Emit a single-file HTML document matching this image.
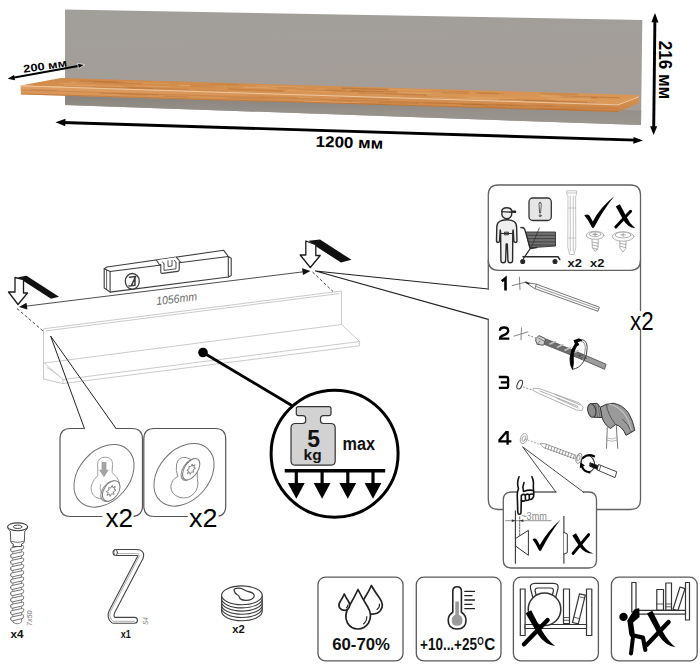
<!DOCTYPE html>
<html><head><meta charset="utf-8">
<style>
html,body{margin:0;padding:0;background:#fff;}
svg{display:block;}
text{font-family:"Liberation Sans",sans-serif;}
</style></head><body>
<svg width="700" height="666" viewBox="0 0 700 666">
<defs>
<linearGradient id="pg" x1="0" y1="0" x2="0.15" y2="1">
<stop offset="0" stop-color="#a19f9a"/><stop offset="1" stop-color="#a59c97"/>
</linearGradient>
<linearGradient id="sh" x1="0" y1="0" x2="0" y2="1">
<stop offset="0" stop-color="#86807b"/><stop offset="0.6" stop-color="#97918c"/><stop offset="1" stop-color="#9c9691"/>
</linearGradient>
<linearGradient id="wt" x1="0" y1="0" x2="0" y2="1">
<stop offset="0" stop-color="#cf8948"/><stop offset="1" stop-color="#dd9c5c"/>
</linearGradient>
<linearGradient id="wf" x1="0" y1="0" x2="0" y2="1">
<stop offset="0" stop-color="#e0a064"/><stop offset="1" stop-color="#c98243"/>
</linearGradient>
</defs>
<rect width="700" height="666" fill="#fff"/>
<!-- ===== TOP: shelf photo ===== -->
<g id="top">
<polygon points="65,9.500 642.300,20 641,125 65,105" fill="url(#pg)"/>
<polygon points="65,93 641.200,110.500 641,125 65,105" fill="url(#sh)"/>
<polygon points="61,78 639,95 639,97 618,104.500 20.500,85.500" fill="url(#wt)"/>
<polygon points="20.500,85.500 618,104.500 639,96.500 639,103 618,112 21,94.500" fill="url(#wf)"/>
<g><line x1="178.9" y1="85.2" x2="225.2" y2="86.6" stroke="#f0c08a" stroke-width="1.1" opacity="0.39"/>
<line x1="366.1" y1="91.6" x2="431.8" y2="93.6" stroke="#f0c08a" stroke-width="1.4" opacity="0.32"/>
<line x1="296.0" y1="89.5" x2="357.9" y2="91.4" stroke="#a8622a" stroke-width="0.7" opacity="0.32"/>
<line x1="540.3" y1="93.4" x2="578.1" y2="94.5" stroke="#b06a2e" stroke-width="1.4" opacity="0.30"/>
<line x1="64.3" y1="84.8" x2="123.7" y2="86.6" stroke="#e9b47c" stroke-width="1.2" opacity="0.39"/>
<line x1="498.6" y1="99.1" x2="554.6" y2="100.9" stroke="#bb7436" stroke-width="1.1" opacity="0.47"/>
<line x1="553.4" y1="96.5" x2="578.0" y2="97.3" stroke="#b06a2e" stroke-width="0.8" opacity="0.29"/>
<line x1="549.3" y1="98.4" x2="590.2" y2="99.7" stroke="#e9b47c" stroke-width="1.3" opacity="0.38"/>
<line x1="351.3" y1="90.7" x2="397.1" y2="92.1" stroke="#a8622a" stroke-width="1.1" opacity="0.52"/>
<line x1="523.5" y1="100.4" x2="587.2" y2="102.4" stroke="#a8622a" stroke-width="0.9" opacity="0.46"/>
<line x1="341.9" y1="88.2" x2="389.3" y2="89.6" stroke="#a8622a" stroke-width="1.4" opacity="0.44"/>
<line x1="190.8" y1="86.3" x2="215.0" y2="87.0" stroke="#bb7436" stroke-width="1.2" opacity="0.28"/>
<line x1="269.8" y1="87.4" x2="295.3" y2="88.1" stroke="#bb7436" stroke-width="0.6" opacity="0.51"/>
<line x1="365.0" y1="93.4" x2="385.2" y2="94.0" stroke="#e9b47c" stroke-width="1.3" opacity="0.42"/>
<line x1="209.3" y1="83.7" x2="239.0" y2="84.6" stroke="#b06a2e" stroke-width="1.1" opacity="0.27"/>
<line x1="71.2" y1="82.1" x2="99.2" y2="83.0" stroke="#f0c08a" stroke-width="1.2" opacity="0.33"/>
<line x1="561.6" y1="96.7" x2="597.1" y2="97.8" stroke="#a8622a" stroke-width="0.9" opacity="0.52"/>
<line x1="286.7" y1="90.4" x2="332.0" y2="91.8" stroke="#f0c08a" stroke-width="0.7" opacity="0.45"/>
<line x1="559.6" y1="96.0" x2="619.9" y2="97.8" stroke="#a8622a" stroke-width="0.9" opacity="0.53"/>
<line x1="190.2" y1="85.3" x2="223.7" y2="86.3" stroke="#bb7436" stroke-width="0.9" opacity="0.55"/>
<line x1="256.5" y1="85.8" x2="304.9" y2="87.3" stroke="#e9b47c" stroke-width="1.1" opacity="0.39"/>
<line x1="228.2" y1="89.3" x2="283.6" y2="91.0" stroke="#b06a2e" stroke-width="1.4" opacity="0.43"/>
<line x1="59.1" y1="83.3" x2="96.4" y2="84.4" stroke="#e9b47c" stroke-width="0.9" opacity="0.43"/>
<line x1="243.9" y1="87.1" x2="277.9" y2="88.2" stroke="#f0c08a" stroke-width="1.2" opacity="0.33"/>
<line x1="92.3" y1="86.7" x2="153.7" y2="88.6" stroke="#a8622a" stroke-width="0.8" opacity="0.34"/>
<line x1="474.4" y1="92.7" x2="504.4" y2="93.7" stroke="#bb7436" stroke-width="0.7" opacity="0.44"/>
<line x1="358.8" y1="92.9" x2="427.0" y2="95.0" stroke="#a8622a" stroke-width="1.3" opacity="0.38"/>
<line x1="135.3" y1="85.8" x2="170.9" y2="86.9" stroke="#f0c08a" stroke-width="0.8" opacity="0.39"/>
<line x1="123.8" y1="82.2" x2="169.1" y2="83.6" stroke="#f0c08a" stroke-width="0.8" opacity="0.31"/>
<line x1="463.5" y1="97.1" x2="515.5" y2="98.8" stroke="#e9b47c" stroke-width="0.9" opacity="0.43"/>
<line x1="321.2" y1="90.2" x2="383.7" y2="92.1" stroke="#bb7436" stroke-width="1.1" opacity="0.34"/>
<line x1="79.8" y1="81.0" x2="118.9" y2="82.1" stroke="#bb7436" stroke-width="1.3" opacity="0.53"/>
<line x1="554.6" y1="101.1" x2="595.7" y2="102.4" stroke="#a8622a" stroke-width="1.0" opacity="0.26"/>
<line x1="432.1" y1="97.3" x2="490.0" y2="99.2" stroke="#f0c08a" stroke-width="0.8" opacity="0.35"/>
<line x1="93.8" y1="82.0" x2="142.3" y2="83.5" stroke="#a8622a" stroke-width="1.3" opacity="0.26"/>
<line x1="402.3" y1="95.9" x2="469.5" y2="98.0" stroke="#bb7436" stroke-width="0.6" opacity="0.42"/>
<line x1="442.0" y1="92.6" x2="468.6" y2="93.4" stroke="#b06a2e" stroke-width="0.9" opacity="0.41"/>
<line x1="540.9" y1="95.9" x2="590.8" y2="97.5" stroke="#e9b47c" stroke-width="1.0" opacity="0.54"/>
<line x1="477.7" y1="93.1" x2="498.4" y2="93.7" stroke="#b06a2e" stroke-width="1.3" opacity="0.41"/>
<line x1="128.5" y1="87.5" x2="188.7" y2="89.4" stroke="#a8622a" stroke-width="0.6" opacity="0.50"/>
<line x1="387.6" y1="89.1" x2="450.2" y2="91.0" stroke="#e9b47c" stroke-width="1.1" opacity="0.32"/>
<line x1="325.3" y1="89.3" x2="345.5" y2="89.9" stroke="#b06a2e" stroke-width="1.2" opacity="0.51"/>
<line x1="76.5" y1="82.8" x2="96.8" y2="83.4" stroke="#b06a2e" stroke-width="0.7" opacity="0.51"/>
<line x1="316.5" y1="88.9" x2="350.6" y2="90.0" stroke="#e9b47c" stroke-width="0.9" opacity="0.37"/>
<line x1="196.2" y1="90.1" x2="228.2" y2="91.1" stroke="#bb7436" stroke-width="1.0" opacity="0.29"/>
<line x1="431.7" y1="90.7" x2="469.0" y2="91.8" stroke="#a8622a" stroke-width="1.0" opacity="0.26"/>
<line x1="378.1" y1="102.2" x2="418.6" y2="103.5" stroke="#b06a2e" stroke-width="1.0" opacity="0.36"/>
<line x1="225.5" y1="98.0" x2="264.1" y2="99.2" stroke="#bb7436" stroke-width="1.2" opacity="0.35"/>
<line x1="30.6" y1="89.6" x2="57.6" y2="90.5" stroke="#b06a2e" stroke-width="1.1" opacity="0.31"/>
<line x1="92.4" y1="91.9" x2="111.5" y2="92.4" stroke="#e9b47c" stroke-width="0.7" opacity="0.42"/>
<line x1="536.8" y1="108.1" x2="585.2" y2="109.5" stroke="#bb7436" stroke-width="1.0" opacity="0.43"/>
<line x1="330.6" y1="100.6" x2="352.8" y2="101.2" stroke="#b06a2e" stroke-width="0.9" opacity="0.31"/>
<line x1="234.4" y1="97.5" x2="274.3" y2="98.7" stroke="#bb7436" stroke-width="0.7" opacity="0.26"/>
<line x1="483.2" y1="106.5" x2="506.2" y2="107.2" stroke="#bb7436" stroke-width="1.1" opacity="0.49"/>
<line x1="338.9" y1="97.9" x2="390.2" y2="99.5" stroke="#a8622a" stroke-width="0.7" opacity="0.44"/>
<line x1="534.3" y1="105.4" x2="554.7" y2="106.0" stroke="#a8622a" stroke-width="1.1" opacity="0.31"/>
<line x1="119.6" y1="94.3" x2="148.0" y2="95.2" stroke="#bb7436" stroke-width="0.8" opacity="0.40"/>
<line x1="536.6" y1="108.7" x2="577.8" y2="109.9" stroke="#bb7436" stroke-width="0.9" opacity="0.49"/>
<line x1="247.5" y1="95.7" x2="296.7" y2="97.2" stroke="#bb7436" stroke-width="0.7" opacity="0.35"/>
<line x1="508.4" y1="105.5" x2="533.2" y2="106.2" stroke="#bb7436" stroke-width="1.1" opacity="0.38"/>
<line x1="264.2" y1="96.4" x2="312.1" y2="97.8" stroke="#e9b47c" stroke-width="1.1" opacity="0.29"/>
<line x1="304.1" y1="101.2" x2="361.1" y2="102.9" stroke="#e9b47c" stroke-width="1.0" opacity="0.46"/>
<line x1="347.9" y1="103.2" x2="390.2" y2="104.4" stroke="#a8622a" stroke-width="0.8" opacity="0.32"/>
<line x1="462.6" y1="104.5" x2="488.9" y2="105.2" stroke="#a8622a" stroke-width="0.8" opacity="0.44"/>
<line x1="99.7" y1="93.0" x2="159.0" y2="94.8" stroke="#a8622a" stroke-width="0.9" opacity="0.46"/>
<line x1="472.2" y1="104.3" x2="513.4" y2="105.5" stroke="#b06a2e" stroke-width="1.1" opacity="0.35"/>
<line x1="423.8" y1="102.7" x2="481.9" y2="104.5" stroke="#a8622a" stroke-width="1.1" opacity="0.41"/>
<line x1="447.9" y1="102.2" x2="468.7" y2="102.8" stroke="#e9b47c" stroke-width="0.7" opacity="0.30"/>
<line x1="162.9" y1="96.1" x2="188.7" y2="96.9" stroke="#b06a2e" stroke-width="1.1" opacity="0.31"/>
<line x1="496.1" y1="104.7" x2="527.1" y2="105.7" stroke="#b06a2e" stroke-width="0.7" opacity="0.32"/>
<line x1="522.8" y1="105.7" x2="542.3" y2="106.3" stroke="#e9b47c" stroke-width="0.6" opacity="0.33"/>
<line x1="260.4" y1="96.4" x2="298.6" y2="97.6" stroke="#bb7436" stroke-width="0.8" opacity="0.39"/></g>
<polyline points="20.500,85.900 618,104.900 639,96.800" fill="none" stroke="#f0c69a" stroke-width="1"/>
<polyline points="20.500,90 618,108.600" fill="none" stroke="#bd7838" stroke-width="0.800" opacity="0.600"/>
<polyline points="20.800,93.900 618,111.500" fill="none" stroke="#b06c30" stroke-width="0.800" opacity="0.700"/>
<!-- arrows -->
<g stroke="#000" fill="#000">
<line x1="62" y1="122.500" x2="636" y2="140.100" stroke-width="2.900"/>
<polygon points="55.500,122.200 65.500,118.800 65.200,126.200" stroke="none"/>
<polygon points="643,140.400 633.500,137 633.300,143.700" stroke="none"/>
<line x1="654.900" y1="20" x2="653.700" y2="128" stroke-width="2.900"/>
<polygon points="655,13 651.300,22.300 658.500,22.400" stroke="none"/>
<polygon points="653.600,135 650.100,126.200 657.200,126.300" stroke="none"/>
<line x1="13" y1="77.700" x2="79.500" y2="65.800" stroke-width="2.100"/>
<polygon points="7.700,78.700 14,75 15,80.200" stroke="none"/>
<polygon points="84.800,64.800 78.500,68.500 77.500,63.300" stroke="#fff" stroke-width="0.700"/>
</g>
<text transform="translate(349.300,147.800) rotate(1.700)" font-size="15.500" font-weight="bold" text-anchor="middle" textLength="67.500" lengthAdjust="spacingAndGlyphs">1200 мм</text>
<text transform="translate(658.800,70) rotate(90)" font-size="19.200" font-weight="bold" text-anchor="middle" textLength="58.500" lengthAdjust="spacingAndGlyphs">216 мм</text>
<text transform="translate(45.600,69.600) rotate(-8)" font-size="10.800" font-weight="bold" text-anchor="middle" textLength="44" lengthAdjust="spacingAndGlyphs">200 мм</text>
</g>
<!-- ===== MAIN: shelf line drawing ===== -->
<g id="main" fill="none" stroke-linecap="round" stroke-linejoin="round">
<!-- shelf outline (light gray) -->
<g stroke="#c4c4c4" stroke-width="0.9">
<polyline points="43.5,379 43.5,328.8 341.5,291 341.5,324.5"/>
<polyline points="46.5,330.8 339,293.6"/>
<polyline points="44.3,363 341.5,324.5 359.6,341.5 359.6,345.8 62.9,383.6 62.9,379.6 359.6,341.5"/>
<polyline points="44.3,363 62.9,379.6"/>
<polyline points="43.5,379 62.9,383.6"/>
<polyline points="47,367.5 58.7,375.3"/>
</g>
<!-- dimension line -->
<line x1="24" y1="306.4" x2="305" y2="271.6" stroke="#3a3a3a" stroke-width="0.9"/>
<polygon points="19,307 26.5,302.8 27.4,309.6" fill="#111" stroke="none"/>
<polygon points="310.5,270.9 303,275.1 302.1,268.3" fill="#111" stroke="none"/>
<line x1="17" y1="308.5" x2="43" y2="331" stroke="#333" stroke-width="0.9" stroke-linecap="butt" stroke-dasharray="3 2.2"/>
<line x1="312.5" y1="272" x2="333" y2="291.5" stroke="#333" stroke-width="0.9" stroke-linecap="butt" stroke-dasharray="3 2.2"/>
<text transform="translate(177,302.6) rotate(-7)" font-size="11.5" font-style="italic" fill="#6a6a6a" stroke="none" text-anchor="middle" textLength="41" lengthAdjust="spacingAndGlyphs">1056mm</text>
<!-- left bent arrow -->
<polygon points="18,277.3 26.5,275.8 59,296.8 51,298.8 23.5,281" fill="#111" stroke="none"/>
<polygon points="15,277.5 23.5,279.5 23.5,293 27.5,293 18,304.5 8.5,292 15,292" fill="#fff" stroke="#1a1a1a" stroke-width="1.3"/>
<!-- right bent arrow -->
<polygon points="308.6,240.8 320,239.6 351.5,259.8 341,262.6 315.8,246.2" fill="#111" stroke="none"/>
<polygon points="305.8,241 315.8,244.6 315.8,255.5 320.2,255.5 310.3,267.5 300.2,255 305.8,255" fill="#fff" stroke="#1a1a1a" stroke-width="1.3"/>
<!-- callout lines to right panel -->
<polyline points="488.3,289 315.5,271 488.3,319.4" stroke="#222" stroke-width="1.2"/>
<!-- level -->
<g stroke="#3c3c3c" stroke-width="1.1" fill="#fff">
<polygon points="104.2,268.8 107.1,267 223.7,250.3 228.3,256.5 231.2,258.2 231.2,275.5 228.3,277 110.1,292.1 104.2,288"/>
<polyline points="104.2,268.8 110.1,271.5 228.3,256.5" fill="none"/>
<polyline points="110.1,271.5 110.1,292.1" fill="none"/>
<polyline points="228.3,256.5 228.3,277" fill="none"/>
<polyline points="106.6,270 106.6,289.6" fill="none" stroke-width="0.8"/>
<!-- notch -->
<path d="M156.5,260.2 L159.5,264.7 L160.8,264.5 L160.8,272 Q160.8,273.6 162.4,273.4 L177.6,271.4 Q179.2,271.2 179.2,269.6 L179.2,262.2 L180.5,262 L176.5,257.3" fill="#fff"/>
<path d="M164,264 L164,270.4 L176,268.8 L176,262.5 M164,264 L162.5,261.8 M176,262.5 L174.5,260.3 M168,260.8 L168,266.5 L172,266 L172,260.4" fill="none" stroke-width="0.9"/>
<ellipse cx="132.3" cy="281.3" rx="7" ry="7.8" stroke-width="1.3"/>
<path d="M129.5,277.3 L135.6,276.6 L131.4,285.5 M135,278 L135,285.3 L129,286" fill="none" stroke-width="1.5"/>
</g>
<!-- callout to boxes -->
<polyline points="84.4,428.5 50.6,336 116,428.5" stroke="#222" stroke-width="1"/>
<!-- boxes -->
<g stroke="#555" stroke-width="1.2">
<path d="M84.4,428.5 H70.5 Q60,428.5 60,439 V506 Q60,516.5 70.5,516.5 H102 M134,516.3 Q142.5,515 142.5,506 V439 Q142.5,428.5 132,428.5 H116"/>
<path d="M187.5,516.5 H154.3 Q143.8,516.5 143.8,506 V439 Q143.8,428.5 154.3,428.5 H215.2 Q225.7,428.5 225.7,439 V506 Q225.7,514.5 219,516.2"/>
</g>
<g stroke="#8c8c8c" stroke-width="1" fill="#fff">
<ellipse cx="104" cy="475.800" rx="35.300" ry="25.200" transform="rotate(-48.500 104 475.800)" stroke="#727272"/>
<ellipse cx="184" cy="474.800" rx="35.300" ry="25.200" transform="rotate(-48.500 184 474.800)" stroke="#727272"/>
<!-- cam 1 -->
<path d="M97.600,464.500 Q97.600,457.200 105.200,457.200 Q112.600,457.200 112.600,464.500 L112,472.500 Q117.500,476.500 119.500,482.500 L104,498.800 Q94,499.500 91.500,491.500 Q89.500,484 97.600,475.500 Z" stroke="#a0a0a0"/>
<path d="M101.600,462 H106.400 V469.800 H108.800 L104,477.200 L99,469.800 H101.600 Z" fill="#a3a3a3" stroke="none"/>
<path d="M100.500,484.500 Q99,489 101.500,493.500" stroke="#aaa" fill="none"/>
<ellipse cx="109.600" cy="491.300" rx="7.200" ry="11.400" transform="rotate(35 109.600 491.300)" stroke="#8a8a8a"/>
<ellipse cx="111.200" cy="490.900" rx="7.200" ry="11.400" transform="rotate(35 111.200 490.900)" stroke="#7a7a7a"/>
<polygon points="113.8,494.2 111.7,493.7 110.1,496.4 109.5,494.1 107.0,495.4 108.4,492.6 106.4,491.7 108.9,490.1 108.6,487.6 110.7,488.1 112.3,485.4 112.9,487.7 115.4,486.4 114.0,489.2 116.0,490.1 113.5,491.7" stroke="#7a7a7a" stroke-width="0.900"/>
<!-- cam 2 -->
<path d="M176.500,464.500 Q178,456.300 186,457.500 L197,462 L197.300,478.500 Q199.500,487.500 194,493.500 Q188,499.500 180,497.500 Q170.800,494.500 170.800,486.500 Q171.500,479.500 177.800,476.500 Q175.500,470.500 176.500,464.500 Z" stroke="#8c8c8c"/>
<ellipse cx="189.700" cy="469.700" rx="6.700" ry="12" transform="rotate(33 189.700 469.700)" stroke="#8c8c8c"/>
<ellipse cx="191.200" cy="469.200" rx="6.700" ry="12" transform="rotate(33 191.200 469.200)" stroke="#7a7a7a"/>
<polygon points="193.5,472.1 191.6,471.8 190.1,474.5 189.7,472.3 187.4,473.7 188.6,471.0 186.9,470.3 189.1,468.6 188.9,466.3 190.8,466.6 192.3,463.9 192.7,466.1 195.0,464.7 193.8,467.4 195.5,468.1 193.3,469.8" stroke="#7a7a7a" stroke-width="0.900"/>
</g>
<text x="105.500" y="527" font-size="26.300" fill="#000" stroke="none" textLength="27.500" lengthAdjust="spacingAndGlyphs">x2</text>
<text x="189" y="527" font-size="26.300" fill="#000" stroke="none" textLength="28.500" lengthAdjust="spacingAndGlyphs">x2</text>
<!-- weight callout -->
<line x1="203" y1="352.500" x2="291" y2="405" stroke="#000" stroke-width="2.800"/>
<circle cx="203" cy="352.500" r="4.800" fill="#000" stroke="none"/>
<circle cx="334.600" cy="453.700" r="63.500" stroke="#000" stroke-width="3" fill="#fff"/>
<path d="M298.500,406.700 H329 Q331,406.700 331,408.700 V413.500 Q331,415.600 329,415.600 H323.500 Q320.500,415.600 320.500,418.500 V420.500 Q320.500,423.500 323.500,423.500 H330.700 Q335.200,423.500 335.200,428 V460.700 Q335.200,465.200 330.700,465.200 H295.500 Q291,465.200 291,460.700 V428 Q291,423.500 295.500,423.500 H302.700 Q305.700,423.500 305.700,420.500 V418.500 Q305.700,415.600 302.700,415.600 H298.300 Q296.300,415.600 296.300,413.500 V408.700 Q296.300,406.700 298.500,406.700 Z" fill="#d2d2d2" stroke="#333" stroke-width="1.200"/>
<text x="313.600" y="446.700" font-size="23" font-weight="bold" fill="#111" stroke="none" text-anchor="middle">5</text>
<text x="312.600" y="460" font-size="15.300" font-weight="bold" fill="#111" stroke="none" text-anchor="middle" textLength="18" lengthAdjust="spacingAndGlyphs">kg</text>
<text x="342.500" y="449.500" font-size="18" font-weight="bold" fill="#111" stroke="none" textLength="32.500" lengthAdjust="spacingAndGlyphs">max</text>
<g stroke="#000" stroke-linecap="butt">
<line x1="284.700" y1="470.700" x2="385.200" y2="470.700" stroke-width="3.600"/>
<g stroke-width="3.200">
<line x1="296.300" y1="471" x2="296.300" y2="484"/><line x1="322.100" y1="471" x2="322.100" y2="484"/><line x1="347.800" y1="471" x2="347.800" y2="484"/><line x1="373" y1="471" x2="373" y2="484"/>
</g>
</g>
<g fill="#000" stroke="none">
<polygon points="287.900,483 304.700,483 296.300,498.800"/><polygon points="313.700,483 330.500,483 322.100,498.800"/><polygon points="339.400,483 356.200,483 347.800,498.800"/><polygon points="364.600,483 381.400,483 373,498.800"/>
</g>
</g>
<!-- ===== RIGHT PANEL ===== -->
<g id="panel" fill="none" stroke-linecap="round" stroke-linejoin="round">
<g stroke="#626262" stroke-width="1.3">
<!-- outer -->
<path d="M488.300,289 V195 Q488.300,185 498.300,185 H630.500 Q640.500,185 640.500,195 V310.500 M640.500,330.500 V499.500 Q640.500,509.500 630.500,509.500 H596.500 M503.300,509.500 H498.300 Q488.300,509.500 488.300,499.500 V319.400"/>
<!-- top box bottom -->
<path d="M488.300,260.300 Q488.300,270.300 498.300,270.300 H630.500 Q640.500,270.300 640.500,260.300"/>
<!-- inset box -->
<path d="M555.900,492 H511.300 Q503.300,492 503.300,500 V560 Q503.300,568 511.300,568 H588.500 Q596.500,568 596.500,560 V500 Q596.500,492 588.500,492 H583.300"/>
</g>
<text x="630" y="330" font-size="25.800" fill="#000" stroke="none" textLength="23.600" lengthAdjust="spacingAndGlyphs">x2</text>
<!-- step numbers (wide font imitation) -->
<g stroke="#000" stroke-width="2.300" stroke-linecap="butt" stroke-linejoin="miter">
<path d="M501.800,281.200 L505.500,278.200 V290.400" stroke-width="2.600"/>
<path d="M499.900,330.800 Q499.900,327.500 504.100,327.500 Q508.200,327.500 508.200,330.800 Q508.200,333.200 505,334.600 L502,335.900 Q500,336.900 500,338.600 H509.300"/>
<path d="M498.800,377 H506.400 Q508.100,377 508.100,378.700 V386.200 Q508.100,387.900 506.400,387.900 H498.800 M500.800,382.400 H508.100"/>
<path d="M507.600,444.700 V432.200 H506.200 L499.500,440 V441.300 H511.400"/>
</g>
<!-- top box: person -->
<g stroke="#2a2a2a" stroke-width="1.400" fill="#efefef">
<path d="M499.500,221.500 Q502,219.800 506.700,219.800 Q511.500,219.800 514,221.500 Q516.500,223 516.600,227 L517,240.500 Q517,242.500 515.500,242.500 Q514,242.500 513.800,240.500 L513.200,230 L512.800,232 L512.600,260.500 Q512.600,262.800 510.200,262.800 Q508,262.800 507.900,260.500 L507.300,244 L506.200,244 L505.600,260.500 Q505.500,262.800 503.200,262.800 Q500.900,262.800 500.900,260.500 L500.600,232 L500.200,230 L499.600,240.500 Q499.500,242.500 498,242.500 Q496.500,242.500 496.500,240.500 L496.800,227 Q497,223 499.500,221.500 Z"/>
<circle cx="506.800" cy="213.800" r="5"/>
<path d="M501.700,211.600 Q502,207.700 506.800,207.700 Q511.400,207.700 511.900,211.200 L515.500,211.300 L515.500,212.400 L501.700,211.600 Z" fill="#efefef"/>
<path d="M501,233.500 H512.400 M504.800,232.200 h3.600 v2.600 h-3.600 z" stroke-width="1"/>
</g>
<!-- warning box -->
<rect x="529" y="198" width="22.300" height="22.500" rx="3.800" fill="#e6e6e6" stroke="#333" stroke-width="1.300"/>
<path d="M540.100,202.500 Q541.300,202.500 541.200,204 L540.600,213 H539.600 L539,204 Q538.900,202.500 540.100,202.500 Z" fill="#fff" stroke="#333" stroke-width="0.800"/>
<circle cx="540.100" cy="215.700" r="1" fill="#fff" stroke="#333" stroke-width="0.800"/>
<!-- cart -->
<g stroke="#2a2a2a" stroke-width="1.300">
<path d="M526.300,232 L555.500,232 L555.500,246 L530,247.800 Z" fill="#707070" stroke="#333" stroke-width="0.900"/>
<path d="M527.300,235.300 H555.500 M528,238.600 H555.500 M528.700,241.900 H555.500 M529.400,245 H555.500" stroke="#3c3c3c" stroke-width="0.900"/>
<path d="M520.800,227.600 Q523.800,227 524.800,229.500 L530.300,248.500 L523.500,258.500" fill="none"/>
<path d="M530.300,248.500 L536.500,247.500" fill="none"/>
<path d="M523,256.700 H558 L559.800,259.500" fill="none" stroke-width="1.500"/>
<circle cx="522.700" cy="261.500" r="1.900" fill="#222"/>
<circle cx="555" cy="261.500" r="1.900" fill="#222"/>
<line x1="539.300" y1="227.900" x2="531.500" y2="247" stroke="#333" stroke-width="0.800"/>
</g>
<!-- wall plug vertical -->
<g stroke="#bdbdbd" stroke-width="0.900" fill="#fff">
<path d="M567,190.800 H576.600 L576.600,194.500 L575.600,196 L575.800,247 L574,254.500 H569.600 L567.800,247 L568,196 L567,194.500 Z"/>
<path d="M570.300,196 V251 M573.300,196 V251 M568,208 h7.700 M568,238 h7.700 M567,193 h9.600"/>
</g>
<text x="567.500" y="266.600" font-size="11.800" font-weight="bold" fill="#111" stroke="none" textLength="14.300" lengthAdjust="spacingAndGlyphs">x2</text>
<text x="590" y="266.600" font-size="11.800" font-weight="bold" fill="#111" stroke="none" textLength="14.300" lengthAdjust="spacingAndGlyphs">x2</text>
<!-- check & X top -->
<path d="M584.300,215.300 Q587.800,213.300 589.800,216 L592.800,221.500 Q600,207.500 614.300,196.300 Q603.500,209.500 594.300,227 Q593,228.800 591.700,227 Q588.500,220.300 584.300,215.300 Z" fill="#000" stroke="none"/>
<path d="M615.800,206.500 L619.800,204.300 Q623.300,210.500 626.300,216.500 Q629.500,223.500 635.300,228.300 Q627.500,227.300 623.300,220 Q619.500,212.800 615.800,206.500 Z" fill="#000" stroke="none"/>
<line x1="630.600" y1="211.300" x2="615.800" y2="227" stroke="#000" stroke-width="3" stroke-linecap="round"/>
<!-- screw heads -->
<g stroke="#a6a6a6" stroke-width="0.900" fill="#fff">
<path d="M592.300,238.500 h6 l-0.300,9.500 l-2.700,3.500 l-2.700,-3.500 z M592.500,242 l5.600,1.300 M592.500,245 l5.600,1.300 M592.600,248 l5.300,1.200"/>
<ellipse cx="595.100" cy="235.300" rx="8.900" ry="4"/>
<ellipse cx="595.100" cy="234.300" rx="5.800" ry="2.400"/>
<path d="M592.800,234.300 h4.600 M595.100,232.800 v3" stroke="#8a8a8a"/>
<path d="M620,240 h6 l-0.300,8.500 l-2.700,3.500 l-2.700,-3.500 z M620.200,243.300 l5.600,1.300 M620.200,246.300 l5.600,1.300"/>
<ellipse cx="623.100" cy="236.500" rx="10.800" ry="4.700"/>
<ellipse cx="623.100" cy="235" rx="7.800" ry="2.900"/>
<path d="M620.800,234.800 h4.600 M623.100,233.500 v2.800" stroke="#999"/>
</g>
<!-- step1: mark + pencil -->
<g stroke="#777" stroke-width="0.900">
<path d="M512.200,285.600 L526,282 M519.400,277.200 L520,289.800"/>
<path d="M526,282.400 L536.400,284.200 L599.300,307.200 L598,311.300 L534.800,288.600 Z" fill="#fff" stroke="#666"/>
<path d="M535.600,286.400 L598.700,309.200" stroke="#888"/>
<path d="M536.400,284.200 L535.600,286.400 L534.800,288.600" stroke="#666"/>
<path d="M526,282.400 L529,283.800" stroke="#222" stroke-width="1.400"/>
</g>
<!-- step2: mark + drill -->
<g stroke="#777" stroke-width="0.900">
<path d="M514,336.100 L527.900,331.900 M521.500,327.700 L521,339.700"/>
<path d="M528,335.200 L536,338" stroke-linecap="butt" stroke-dasharray="2 1.5"/>
</g>
<g>
<path d="M536.200,338.300 L538.800,335.600 L544.800,338.200 L546.300,341.700 L543.300,345.300 L537.300,344.300 L535.900,341.300 Z" fill="#cfcfcf" stroke="#444" stroke-width="0.900"/>
<path d="M538.800,338.300 L544.500,341.300 M537.300,344.300 L539.800,341.300" stroke="#555" stroke-width="0.700" fill="none"/>
<path d="M546,339 L583.500,354.500 L581.500,359.300 L544.300,344.300 Z" fill="#6e6e6e" stroke="#4a4a4a" stroke-width="0.800"/>
<path d="M550,344 l5.500,-2.600 M557.500,347.100 l5.500,-2.600 M565,350.200 l5.500,-2.600 M572.500,353.300 l5.500,-2.600" stroke="#c4c4c4" stroke-width="1.500"/>
<path d="M583.500,354.500 L606,364.200 L604.600,369.300 L581.500,359.300 Z" fill="#9d9d9d" stroke="#555" stroke-width="0.900"/>
<path d="M579,355.800 Q582.500,358.600 586.500,358.300 Q584,356.300 581,355.500 Z" fill="#bbb" stroke="#333" stroke-width="0.700"/>
</g>
<!-- rotation arrow step2 -->
<path d="M580.300,339.600 Q586.800,338.800 587.200,347.500 Q587.300,355 583.800,361.200 Q579.500,368.500 572.500,369.300" stroke="#333" stroke-width="0.900"/>
<path d="M581.300,341.500 Q585,341.500 585.300,347.500 Q585.300,353 583.300,358" stroke="#777" stroke-width="0.800"/>
<path d="M576.300,342 Q570.300,350 570,358.500 Q569.800,365.500 572.500,369.300 Q574,363 573.300,358 Q573,350 578.300,344.300 Z" fill="#000" stroke="#000" stroke-width="0.800"/>
<polygon points="573.500,340.300 579,338.300 582.500,340.800 577.500,342.300 579.500,345.300 575.500,345.800" fill="#000" stroke="none"/>
<!-- step3: hole + plug + hammer -->
<ellipse cx="519.700" cy="384.600" rx="2.400" ry="4.600" transform="rotate(22 519.700 384.600)" stroke="#333" stroke-width="1"/>
<path d="M523,386.800 L533,390.300" stroke="#777" stroke-width="0.800" stroke-linecap="butt" stroke-dasharray="2 1.5"/>
<g stroke="#a8a8a8" stroke-width="0.900" fill="#fff">
<path d="M534,388.200 L540,388.800 L579.500,403 L583.200,407.300 L581.800,410.500 L576.500,410 L538.500,393.300 L533.300,390.500 Z"/>
<path d="M540,391 L578,406.300 M555,394.300 L580,404.800 M557,398.300 L578,408"/>
</g>
<g>
<path d="M607.300,427 L606.500,448.300 M616.300,425 L617.700,448.300" stroke="#777" stroke-width="1" fill="none"/>
<path d="M607,438 Q612,440.300 617,437.600 M607,440.300 Q612,442.600 617.200,440" stroke="#999" stroke-width="0.700" fill="none"/>
<path d="M600.200,407.300 Q606,403.300 613,403.300 Q622.500,404.500 628.500,413 Q633.300,421 634.800,430.300 L626,435.300 Q622.500,426.300 615.500,424.500 L610.500,428.500 Q604.500,425 602,417.500 Z" fill="#9a9a9a" stroke="#333" stroke-width="1"/>
<path d="M606.500,405 Q607.500,414 615.500,424.500 M631.500,432 Q628.500,424 622.500,419.300" stroke="#444" stroke-width="0.800" fill="none"/>
<path d="M609,404 Q618,406 624,413.500 Q629,420 631.300,430" stroke="#c4c4c4" stroke-width="1.200" fill="none"/>
<path d="M590.500,404 L597,403.200 L600.300,407.300 L602,417.500 L594.500,417.300 Z" fill="#9a9a9a" stroke="#333" stroke-width="1"/>
<ellipse cx="591.800" cy="410.500" rx="4" ry="6.800" transform="rotate(-12 591.800 410.500)" fill="#8c8c8c" stroke="#333" stroke-width="1"/>
<path d="M595.500,403.500 L597.500,417.300 M598,404.300 L600,417.300" stroke="#555" stroke-width="0.700"/>
</g>
<!-- step4: hole + screw + screwdriver -->
<g stroke="#a5a5a5" stroke-width="0.900">
<ellipse cx="523.800" cy="438.600" rx="3.300" ry="5.200" transform="rotate(20 523.800 438.600)"/>
<ellipse cx="523.800" cy="438.600" rx="1.600" ry="2.800" transform="rotate(20 523.800 438.600)"/>
<path d="M527.500,440 L540,444.500" stroke-linecap="butt" stroke-dasharray="2 1.5"/>
</g>
<g stroke="#8e8e8e" stroke-width="0.800">
<path d="M540.500,443.700 L545,443.700 L576,455.300 L575,459 L544,447.700 Z" fill="#fff"/>
<path d="M546.500,444.300 l-1.300,4 M549.300,445.300 l-1.300,4 M552.100,446.300 l-1.300,4.100 M554.900,447.400 l-1.300,4.100 M557.700,448.400 l-1.300,4.100 M560.500,449.500 l-1.300,4.100 M563.300,450.500 l-1.300,4.100 M566.100,451.600 l-1.300,4.100 M568.900,452.600 l-1.300,4.100 M571.700,453.700 l-1.300,4.100 M574.500,454.700 l-1.200,4" stroke="#7a7a7a"/>
<ellipse cx="579" cy="458.300" rx="2.600" ry="5.200" transform="rotate(18 579 458.300)" fill="#fff" stroke="#777"/>
<ellipse cx="578.500" cy="458.100" rx="1.300" ry="3" transform="rotate(18 578.500 458.100)" fill="#fff" stroke="#999"/>
</g>
<ellipse cx="587.900" cy="463.600" rx="6.600" ry="8.300" transform="rotate(-12 587.900 463.600)" stroke="#222" stroke-width="1" fill="#fff"/>
<path d="M583.300,457.800 Q588,453.300 594,456.300" stroke="#000" stroke-width="2.200" fill="none"/>
<path d="M582,466.500 Q583.500,471.500 589.500,472.300" stroke="#000" stroke-width="2.200" fill="none"/>
<polygon points="580.300,462.300 585,465.600 579.800,468.300" fill="#000" stroke="none"/>
<path d="M590.300,462.800 L598.800,466 L597.800,469.600 L590,466.300 Z" fill="#111" stroke="#111" stroke-width="0.800"/>
<path d="M598.800,464.600 L616.800,471.800 L615,477.600 L597.300,470 Z" fill="#fff" stroke="#333" stroke-width="0.900"/>
<path d="M600.800,465.600 l-1.500,5 " stroke="#444" stroke-width="0.800"/>
<!-- callout to inset -->
<polyline points="555.900,492 522.600,446.800 583.300,492" stroke="#333" stroke-width="0.900"/>
<!-- hand -->
<g stroke="#111" stroke-width="1.600" fill="#fff">
<path d="M519,476.800 Q516.500,483 518.500,488.500 Q517,492 517.300,497 L517.800,512.500 Q518,514.300 519.500,514.300 Q521,514.300 521,512.500 L521.300,500.500 Q523.300,501.800 525.500,500.300 Q527.500,501 529.300,499.500 Q531.500,499.800 532.800,498 Q534.200,496 533.600,492.500 L533.300,486 Q534,481 532,476.800"/>
<path d="M521.300,500.500 L521.300,495.500 Q523.300,493.500 525.300,495 L525.500,500.300 M525.300,495 Q527.500,493.300 529.300,494.800 L529.300,499.500 M529.300,494.800 Q531,493.500 533.300,494.300" fill="none"/>
<path d="M524,482.500 Q522,487 523.500,491.500 Q529,489.500 533.400,490.500" fill="none"/>
</g>
<!-- inset: dims -->
<text x="521.300" y="519.600" font-size="10" fill="#8a8a8a" stroke="none" textLength="25.500" lengthAdjust="spacingAndGlyphs">~3mm</text>
<g stroke="#555" stroke-width="0.900">
<line x1="505.600" y1="520.700" x2="551" y2="520.700" stroke="#888"/>
<line x1="515.400" y1="510.700" x2="515.400" y2="563.300" stroke="#333" stroke-width="1.100"/>
<line x1="519.700" y1="517" x2="519.700" y2="536" stroke-dasharray="2 1.300"/>
<polygon points="515.400,520.700 511.800,519.300 511.800,522.100" fill="#333" stroke="none"/>
<polygon points="519.700,520.700 523.300,519.300 523.300,522.100" fill="#333" stroke="none"/>
<path d="M515.900,538.300 L528.400,530.300 L528.400,555.300 L515.900,546.300 Z" fill="#fff" stroke="#333" stroke-width="1"/>
<line x1="563.900" y1="516.400" x2="563.900" y2="563.300" stroke="#333" stroke-width="1.100"/>
<path d="M563.900,532.400 L567.300,534 L567.300,552.600 L563.900,554.100" fill="#fff" stroke="#333" stroke-width="1"/>
</g>
<path d="M532.500,539.300 Q535.300,537.600 537,540 L539.800,545 Q547,532 560.600,519.600 Q550.500,532.500 541.300,550 Q540,551.800 538.800,550 Q536,544 532.500,539.300 Z" fill="#000" stroke="none"/>
<path d="M572.300,535.500 L576,533.300 Q579.500,539 582.300,544.500 Q585.800,550.500 593.300,553.600 Q585,553.800 580,547.300 Q576,541.500 572.300,535.500 Z" fill="#000" stroke="none"/>
<line x1="588.800" y1="534.500" x2="573" y2="553.500" stroke="#000" stroke-width="2.800" stroke-linecap="round"/>
</g>
<!-- ===== HARDWARE ===== -->
<g id="hardware" fill="none" stroke-linecap="round" stroke-linejoin="round">
<g stroke="#6e6e6e" stroke-width="1" fill="#fff">
<path d="M12.800,546 L12.800,622.0 Q17.200,625.5 21.600,622.0 L21.600,546 Z" stroke="#888"/>
<path d="M10.600,549.7 Q10,548.0 12,547.7 L22.500,545.5 Q24.300,545.7 23.600,547.7 Q23.600,549.3 21.800,549.5 L12.200,551.7 Q10.400,551.7 10.600,549.7 Z" stroke="#777"/>
<path d="M10.600,556.0 Q10,554.3 12,554.0 L22.500,551.8 Q24.300,552.0 23.600,554.0 Q23.600,555.6 21.800,555.8 L12.200,558.0 Q10.400,558.0 10.600,556.0 Z" stroke="#777"/>
<path d="M10.600,562.3 Q10,560.6 12,560.3 L22.500,558.1 Q24.300,558.3 23.600,560.3 Q23.600,561.9 21.800,562.1 L12.200,564.3 Q10.400,564.3 10.600,562.3 Z" stroke="#777"/>
<path d="M10.600,568.6 Q10,566.9 12,566.6 L22.500,564.4 Q24.300,564.6 23.600,566.6 Q23.600,568.2 21.800,568.4 L12.200,570.6 Q10.400,570.6 10.600,568.6 Z" stroke="#777"/>
<path d="M10.600,574.9 Q10,573.2 12,572.9 L22.500,570.7 Q24.300,570.9 23.600,572.9 Q23.600,574.5 21.800,574.7 L12.200,576.9 Q10.400,576.9 10.600,574.9 Z" stroke="#777"/>
<path d="M10.600,581.2 Q10,579.5 12,579.2 L22.500,577.0 Q24.300,577.2 23.600,579.2 Q23.600,580.8 21.800,581.0 L12.200,583.2 Q10.400,583.2 10.600,581.2 Z" stroke="#777"/>
<path d="M10.600,587.5 Q10,585.8 12,585.5 L22.500,583.2 Q24.300,583.5 23.600,585.5 Q23.600,587.0 21.800,587.2 L12.200,589.5 Q10.400,589.5 10.600,587.5 Z" stroke="#777"/>
<path d="M10.600,593.7 Q10,592.0 12,591.7 L22.500,589.5 Q24.300,589.7 23.600,591.7 Q23.600,593.3 21.800,593.5 L12.200,595.7 Q10.400,595.7 10.600,593.7 Z" stroke="#777"/>
<path d="M10.600,600.0 Q10,598.3 12,598.0 L22.500,595.8 Q24.300,596.0 23.600,598.0 Q23.600,599.6 21.800,599.8 L12.200,602.0 Q10.400,602.0 10.600,600.0 Z" stroke="#777"/>
<path d="M10.600,606.3 Q10,604.6 12,604.3 L22.500,602.1 Q24.300,602.3 23.600,604.3 Q23.600,605.9 21.800,606.1 L12.200,608.3 Q10.400,608.3 10.600,606.3 Z" stroke="#777"/>
<path d="M10.600,612.6 Q10,610.9 12,610.6 L22.500,608.4 Q24.300,608.6 23.600,610.6 Q23.600,612.2 21.800,612.4 L12.200,614.6 Q10.400,614.6 10.600,612.6 Z" stroke="#777"/>
<path d="M10.600,618.9 Q10,617.2 12,616.9 L22.500,614.7 Q24.300,614.9 23.600,616.9 Q23.600,618.5 21.800,618.7 L12.200,620.9 Q10.400,620.9 10.600,618.9 Z" stroke="#777"/>
<path d="M7.600,526.800 Q7.600,529.500 10.300,531 L10.800,541.500 Q11,543.800 13.300,544 L13.300,546.500 H21.500 L21.500,544 Q24,543.800 24.300,541.500 L24.800,531 Q27.600,529.500 27.600,526.800" stroke="#555"/>
<ellipse cx="17.600" cy="526.800" rx="10" ry="3.900" stroke="#444" stroke-width="1.100"/>
<ellipse cx="17.600" cy="526.800" rx="4.200" ry="1.700" stroke="#444" fill="#fff"/>
<path d="M10.600,541.300 Q17.500,543.800 24.500,541.300" stroke="#777"/>
</g>
<text x="10.400" y="637.800" font-size="10.500" font-weight="bold" fill="#111" stroke="none" textLength="13" lengthAdjust="spacingAndGlyphs">x4</text>
<text transform="translate(32,626) rotate(-90)" font-size="6.500" font-style="italic" fill="#777" stroke="none" textLength="15.500" lengthAdjust="spacingAndGlyphs">7x50</text>
<g>
<path d="M116,552.500 H136.500 Q142.500,552.500 140,558 L112,611.500 Q109.500,617 113.500,620.300 H134.500" stroke="#444" stroke-width="7" fill="none"/>
<path d="M116,552.500 H136.500 Q142.500,552.500 140,558 L112,611.500 Q109.500,617 113.500,620.300 H134.500" stroke="#fff" stroke-width="4.800" fill="none"/>
<path d="M116.500,553.600 H136.500 Q140.500,553.600 138.800,557.300 L110.500,611.500 Q108.500,617 113,621.300 H134.500" stroke="#999" stroke-width="0.800" fill="none"/>
<ellipse cx="115.600" cy="552.500" rx="1.800" ry="2.800" fill="#fff" stroke="#555" stroke-width="1"/>
</g>
<text x="120.800" y="637.800" font-size="10.500" font-weight="bold" fill="#111" stroke="none" textLength="10" lengthAdjust="spacingAndGlyphs">x1</text>
<text transform="translate(148.300,625) rotate(-90)" font-size="7" font-style="italic" fill="#777" stroke="none" textLength="8" lengthAdjust="spacingAndGlyphs">S4</text>
<g stroke="#3a3a3a" stroke-width="1.100" fill="#fff">
<path d="M221.6,608.1 L221.6,611.3 A20.3,9.4 0 0 0 262.2,611.3 L262.2,608.1 Z" />
<path d="M221.6,604.9 L221.6,608.1 A20.3,9.4 0 0 0 262.2,608.1 L262.2,604.9 Z" />
<path d="M221.6,601.7 L221.6,604.9 A20.3,9.4 0 0 0 262.2,604.9 L262.2,601.7 Z" />
<path d="M221.6,598.5 L221.6,601.7 A20.3,9.4 0 0 0 262.2,601.7 L262.2,598.5 Z" />
<path d="M221.6,595.3 L221.6,598.5 A20.3,9.4 0 0 0 262.2,598.5 L262.2,595.3 Z" />
<ellipse cx="241.900" cy="595.300" rx="20.300" ry="9.400"/>
<path d="M234.500,591.500 Q233,589 236.500,588.300 Q241,587.500 243.500,589.500 Q246,591.300 250,592 Q255,593.300 254,597 Q252,600.500 245.500,600.300 Q240,600 239.500,597.500 Q239.300,595.500 237,594.500 Q235,593.500 234.500,591.500 Z" stroke-width="1.300"/>
</g>
<text x="232.200" y="633" font-size="10.500" font-weight="bold" fill="#111" stroke="none" textLength="12.500" lengthAdjust="spacingAndGlyphs">x2</text>
</g>
<!-- ===== BOTTOM ICONS ===== -->
<g id="icons" fill="none" stroke-linecap="round" stroke-linejoin="round">
<g stroke="#5a5a5a" stroke-width="1.300" fill="#fff">
<rect x="318" y="577.200" width="85" height="83.700" rx="7.500"/>
<rect x="416.300" y="577.200" width="84.700" height="83.700" rx="7.500"/>
<rect x="513.400" y="577.200" width="85" height="83.700" rx="7.500"/>
<rect x="611.400" y="577.200" width="85.800" height="83.700" rx="7.500"/>
</g>
<!-- drops -->
<g stroke="#222" stroke-width="1.700" fill="#fff">
<path d="M371.400,585.500 Q375,592 379.500,598 Q384.500,605 380.500,610.500 Q377,614.500 371.400,614 Q364.500,613.500 362.500,607.500 Q361,603 365.500,596.500 Q369,591 371.400,585.500 Z"/>
<path d="M358,589.500 Q362,598 367.500,606.500 Q373,615 368.500,623 Q364.500,629 358,629 Q351,629 347.500,623 Q343.500,615.500 349,606.500 Q354.500,597 358,589.500 Z"/>
<path d="M344.300,594 Q346,598 348.300,601 Q351,605.500 348.300,608.500 Q346.500,610.300 344.300,610.300 Q341.500,610.300 339.800,608 Q337.800,605 340.500,601 Q342.800,597.500 344.300,594 Z"/>
</g>
<g stroke="#222" stroke-width="1.100" fill="none">
<path d="M363.500,624 Q367,621 366.800,616.500"/><path d="M377,609.500 Q379.800,607.500 379.500,604"/><path d="M346.500,607.800 Q348,606.800 347.800,605"/>
</g>
<text x="332.200" y="649.500" font-size="17" font-weight="bold" fill="#111" stroke="none" textLength="57.800" lengthAdjust="spacingAndGlyphs">60-70%</text>
<!-- thermometer -->
<path d="M452.800,591.300 Q452.800,586.800 457.100,586.800 Q461.400,586.800 461.400,591.300 V612.300 Q466,615 466,620.300 Q466,629 457.100,629 Q448.200,629 448.200,620.300 Q448.200,615 452.800,612.300 Z" fill="#fff" stroke="#222" stroke-width="1.600"/>
<path d="M455.300,601.500 H458.900 V614.800 Q462.500,616.300 462.500,620.300 Q462.500,625.800 457.100,625.800 Q451.700,625.800 451.700,620.300 Q451.700,616.300 455.300,614.800 Z" fill="#9a9a9a" stroke="none"/>
<path d="M464.800,591.400 H474.500 M464.800,595.700 H472 M464.800,600 H474.500 M464.800,604.300 H472 M464.800,608.600 H474.500" stroke="#222" stroke-width="1.300"/>
<text x="420" y="649.500" font-size="17" font-weight="bold" fill="#111" stroke="none" textLength="57" lengthAdjust="spacingAndGlyphs">+10...+25</text>
<text x="477.300" y="644.500" font-size="10" font-weight="bold" fill="#111" stroke="none" textLength="6.500" lengthAdjust="spacingAndGlyphs">O</text>
<text x="484.300" y="649.500" font-size="17" font-weight="bold" fill="#111" stroke="none" textLength="11" lengthAdjust="spacingAndGlyphs">C</text>
<!-- icon 3: heavy load -->
<g stroke="#333" stroke-width="1.200" fill="#fff">
<rect x="520.300" y="589" width="4.800" height="46.500"/>
<rect x="586.500" y="589" width="5.300" height="46.500"/>
<rect x="525.100" y="624.500" width="61.400" height="4"/>
<path d="M533.500,600 L530.500,588.500 Q529.500,583.300 535,583.300 H553.500 Q559,583.300 558,588.500 L555,600 H551 L553.300,591.500 Q554,588 550.500,588 H538 Q534.500,588 535.200,591.500 L537.500,600 Z"/>
<circle cx="544.500" cy="609.300" r="16.300" stroke-width="1.500"/>
<rect x="563.500" y="589" width="6" height="34.500"/>
<path d="M563.500,617.500 h6 M563.500,620.300 h6" stroke-width="0.800"/>
<path d="M572.500,622.500 L579.500,593.800 L585.300,595.200 L578.300,623.900 Z"/>
<path d="M573.800,617.200 l5.800,1.400 M580.300,597 l3.500,0.900" stroke-width="0.800"/>
</g>
<path d="M525.600,613.300 L531.200,610.200 Q537,622 542,630.500 Q547.500,640.500 555.200,645.900 Q545,645 538,634.500 Q531.500,623.500 525.600,613.300 Z" fill="#000" stroke="none"/>
<line x1="547.600" y1="620" x2="524" y2="644.300" stroke="#000" stroke-width="4.400" stroke-linecap="round"/>
<!-- icon 4: climbing -->
<g stroke="#333" stroke-width="1.200" fill="#fff">
<rect x="631.800" y="582.500" width="4.200" height="29.500"/>
<rect x="685.500" y="582.500" width="4" height="37.500"/>
<rect x="636" y="610.400" width="49.500" height="3.700"/>
<rect x="656.800" y="589.500" width="6.700" height="20.500"/>
<rect x="665.800" y="583" width="5.700" height="27"/>
<path d="M656.800,604 h6.700 M665.800,604 h5.700 M665.800,606.800 h5.700" stroke-width="0.800"/>
<path d="M673,609.300 L680,587 L685,588.600 L678,610.300 Z"/>
</g>
<g fill="#000" stroke="#000" stroke-linecap="round" stroke-linejoin="round">
<circle cx="623.500" cy="616.900" r="4.200" stroke="none"/>
<polygon points="634.500,610.300 638.600,609 638.800,616.700 632,622.300 628,621" stroke-width="1.500"/>
<line x1="630.300" y1="622" x2="632" y2="634" stroke-width="5.400"/>
<polyline points="632.500,635.300 643,637.600 645.300,649.800" stroke-width="4.200" fill="none"/>
<line x1="633" y1="637" x2="631" y2="653.500" stroke-width="4"/>
</g>
<path d="M647,613.600 L652.300,610.700 Q658,622 662.500,631 Q668,641.500 675.500,647.300 Q665.500,646 658.800,635.500 Q652.500,624 647,613.600 Z" fill="#000" stroke="none"/>
<line x1="668.600" y1="622" x2="646.200" y2="645.600" stroke="#000" stroke-width="4.400" stroke-linecap="round"/>
</g>
</svg>
</body></html>
